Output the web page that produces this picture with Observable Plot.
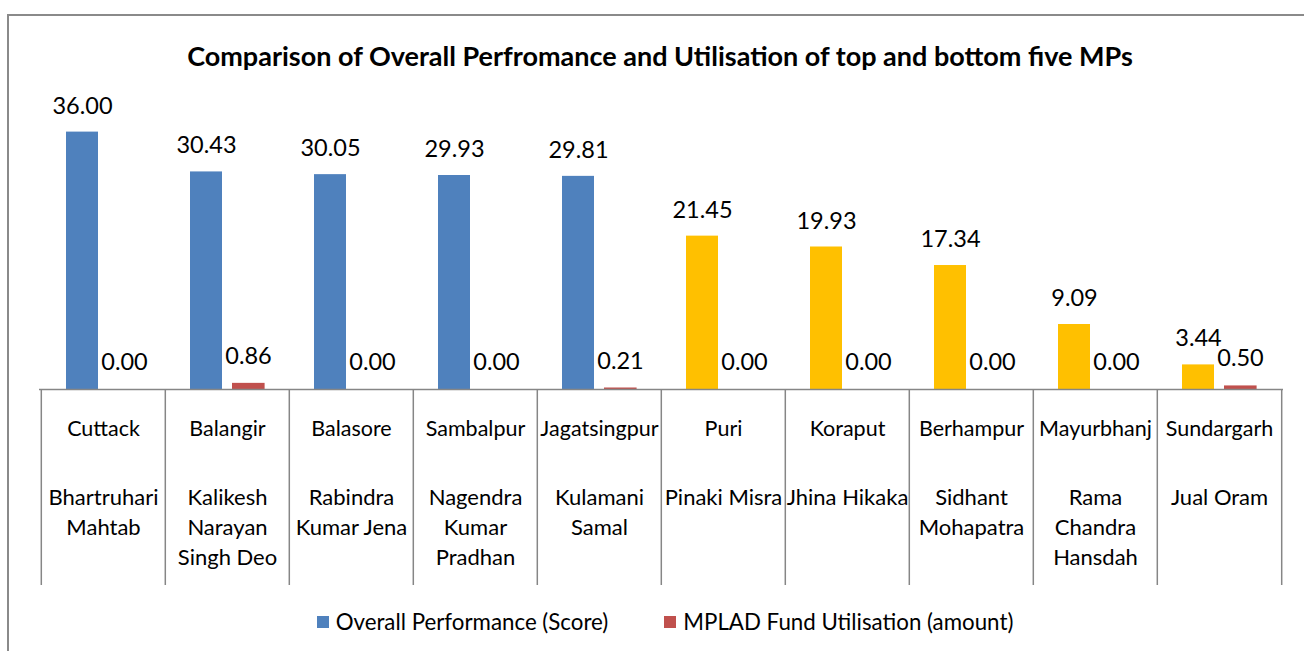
<!DOCTYPE html>
<html><head><meta charset="utf-8">
<script src="https://cdn.jsdelivr.net/npm/d3@7"></script>
<script src="https://cdn.jsdelivr.net/npm/@observablehq/plot@0.6"></script>
<style>
html,body{margin:0;padding:0;background:#fff;overflow:hidden;width:1304px;height:651px;}
body{position:relative;font-family:Lato, sans-serif;color:#000;}
#frame{position:absolute;left:7px;top:14px;width:1400px;height:800px;border:2.5px solid #8a8a8a;box-sizing:border-box;z-index:2;pointer-events:none;}
#title{position:absolute;top:40px;left:0;width:1320px;text-align:center;font-weight:bold;font-size:27px;line-height:32px;}
#chart{position:absolute;left:0;top:80px;}
#legend{position:absolute;top:608px;left:0;width:1330px;display:flex;justify-content:center;align-items:center;gap:56px;font-size:22.3px;line-height:28px;}
.item{display:flex;align-items:center;gap:7px;}
.sw{width:12px;height:12px;display:inline-block;}
</style>
</head><body>
<div id="frame"></div>
<div id="title">Comparison of Overall Perfromance and Utilisation of top and bottom five MPs</div>
<div id="chart"></div>
<div id="legend"></div>
<script>
const constituencies = ["Cuttack","Balangir","Balasore","Sambalpur","Jagatsingpur","Puri","Koraput","Berhampur","Mayurbhanj","Sundargarh"];
const mpNames = ["Bhartruhari\nMahtab","Kalikesh\nNarayan\nSingh Deo","Rabindra\nKumar Jena","Nagendra\nKumar\nPradhan","Kulamani\nSamal","Pinaki Misra","Jhina Hikaka","Sidhant\nMohapatra","Rama\nChandra\nHansdah","Jual Oram"];
const scores = [36.00, 30.43, 30.05, 29.93, 29.81, 21.45, 19.93, 17.34, 9.09, 3.44];
const funds = [0.00, 0.86, 0.00, 0.00, 0.21, 0.00, 0.00, 0.00, 0.00, 0.50];
const groups = ["top","top","top","top","top","bottom","bottom","bottom","bottom","bottom"];
const seriesNames = ["Overall Performance (Score)", "MPLAD Fund Utilisation (amount)"];

const rows = constituencies.map((c, i) => ({constituency: c, mp: mpNames[i], score: scores[i], fund: funds[i], group: groups[i]}));

const blue = "#4F81BD", yellow = "#FFC000", red = "#C0504D", grey = "#868686";
const band = (1304 - 39 - 21) / constituencies.length;

const chart = Plot.plot({
  width: 1304, height: 509,
  marginTop: 23, marginBottom: 200, marginLeft: 39, marginRight: 21,
  x: {domain: constituencies, padding: 0, axis: null},
  y: {domain: [0, 40], axis: null},
  color: {domain: ["top","bottom","fund"], range: [blue, yellow, red]},
  style: {fontFamily: "Lato, sans-serif", fontSize: "22px", color: "black", background: "transparent", overflow: "visible"},
  marks: [
    Plot.barY(rows, {x: "constituency", y: "score", fill: "group", insetLeft: 25, insetRight: 67}),
    Plot.barY(rows, {x: "constituency", y: "fund", fill: () => "fund", insetLeft: 67, insetRight: 24.4}),
    Plot.ruleY([0], {stroke: grey, strokeWidth: 1.5}),
    Plot.ruleX(rows, {x: "constituency", dx: -band / 2, insetTop: 286, insetBottom: -196, stroke: grey, strokeWidth: 1.5}),
    Plot.ruleX(rows.slice(-1), {x: "constituency", dx: band / 2, insetTop: 286, insetBottom: -196, stroke: grey, strokeWidth: 1.5}),
    Plot.text(rows, {x: "constituency", y: "score", text: d => d.score.toFixed(2), dx: -21, dy: -26, fontSize: 23.5, fill: "black"}),
    Plot.text(rows, {x: "constituency", y: "fund", text: d => d.fund.toFixed(2), dx: 21, dy: -27, fontSize: 23.5, fill: "black"}),
    Plot.text(rows, {x: "constituency", text: "constituency", frameAnchor: "bottom", dy: 46, fontSize: 21.5, fill: "black"}),
    Plot.text(rows, {x: "constituency", text: "mp", frameAnchor: "bottom", lineAnchor: "top", dy: 94, lineHeight: 1.36, fontSize: 22, fill: "black"})
  ]
});
document.getElementById("chart").appendChild(chart);

const legend = document.getElementById("legend");
[[blue, seriesNames[0]], [red, seriesNames[1]]].forEach(([c, t]) => {
  const it = document.createElement("div");
  it.className = "item";
  it.innerHTML = `<span class="sw" style="background:${c}"></span><span>${t}</span>`;
  legend.appendChild(it);
});
</script>
</body></html>
